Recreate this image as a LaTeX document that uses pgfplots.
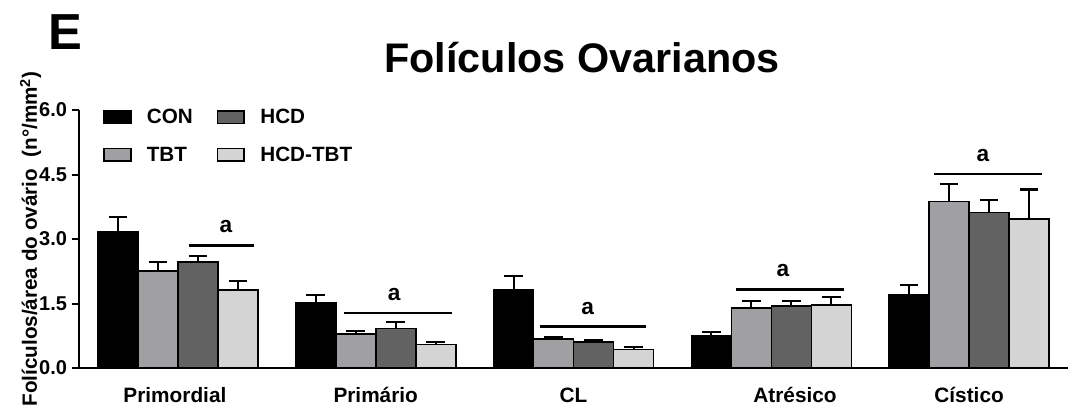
\documentclass[border=0pt]{standalone}
\usepackage{fontspec}
\setmainfont{Liberation Sans}
\usepackage{pgfplots}
\pgfplotsset{compat=1.18}

\definecolor{tbtgray}{HTML}{A0A0A2}
\definecolor{hcdgray}{HTML}{626262}
\definecolor{hcdtbtgray}{HTML}{D4D4D4}

\pgfplotsset{
  swatch/.style={legend image code/.code={%
    \draw[##1,line width=1.2pt] (0pt,-4.7pt) rectangle (20pt,4.7pt);}},
  grp/.style={fill=#1, draw=black, line width=1.2pt, swatch,
    error bars/.cd, y dir=plus, y explicit,
    error bar style={line width=1.5pt, black},
    error mark options={rotate=90, mark size=7pt, line width=1.6pt, black}},
}

\begin{document}
\begin{tikzpicture}[font=\bfseries]
\useasboundingbox (-59.25pt,-32.25pt) rectangle (741.75pt,276pt);

\node[anchor=base west, font=\fontsize{38}{40}\selectfont\bfseries, inner sep=0pt]
  at (-23pt,238.5pt) {E};
\node[anchor=base, font=\fontsize{31}{34}\selectfont\bfseries, inner sep=0pt]
  at (377.25pt,221.25pt) {Folículos Ovarianos};

\begin{axis}[
  at={(0pt,0pt)}, anchor=south west,
  scale only axis, width=741.75pt, height=193.5pt,
  xmin=-0.5, xmax=4.5, ymin=0, ymax=6,
  clip=false,
  axis x line*=bottom, axis y line*=left,
  axis line style={line width=1.5pt, black},
  ybar=0pt, bar width=30pt,
  ytick={0,1.5,3,4.5,6},
  tick align=outside,
  major tick length=5.5pt,
  ytick style={line width=1.5pt, black},
  xtick={-0.015,1,2,3.12,4},
  xticklabels={Primordial, Primário, CL, Atrésico, Cístico},
  xtick style={draw=none},
  yticklabel style={font=\fontsize{15}{17}\selectfont\bfseries,
    /pgf/number format/.cd, fixed, fixed zerofill, precision=1,
    assume math mode=true},
  xticklabel style={font=\fontsize{15.6}{18}\selectfont\bfseries,
    anchor=base, yshift=-20.25pt},
  ylabel={Folículos/área do ovário\ \ (n°/mm\textsuperscript{2})},
  every axis y label/.style={at={(axis description cs:-0.0425,0.5)},
    anchor=base, rotate=90, inner sep=0pt,
    font=\fontsize{15.5}{18}\selectfont\bfseries},
  legend columns=2, transpose legend,
  legend cell align=left,
  legend style={draw=none, fill=none, at={(rel axis cs:0,1)},
    anchor=north west, xshift=15pt, yshift=5pt,
    font=\fontsize{15.5}{18}\selectfont\bfseries,
    row sep=12pt,
    /tikz/every odd column/.append style={column sep=9.5pt},
    /tikz/every even column/.append style={column sep=16pt}},
]
\addplot[grp=black] coordinates {
  (0,3.17) +- (0,0.35)
  (1,1.52) +- (0,0.17)
  (2,1.83) +- (0,0.30)
  (3,0.74) +- (0,0.09)
  (4,1.71) +- (0,0.22)
};
\addlegendentry{CON}
\addplot[grp=tbtgray] coordinates {
  (0,2.26) +- (0,0.21)
  (1,0.79) +- (0,0.07)
  (2,0.67) +- (0,0.06)
  (3,1.40) +- (0,0.15)
  (4,3.87) +- (0,0.41)
};
\addlegendentry{TBT}
\addplot[grp=hcdgray] coordinates {
  (0,2.46) +- (0,0.15)
  (1,0.92) +- (0,0.14)
  (2,0.60) +- (0,0.04)
  (3,1.44) +- (0,0.11)
  (4,3.62) +- (0,0.29)
};
\addlegendentry{HCD}
\addplot[grp=hcdtbtgray] coordinates {
  (0,1.81) +- (0,0.21)
  (1,0.55) +- (0,0.06)
  (2,0.43) +- (0,0.05)
  (3,1.46) +- (0,0.20)
  (4,3.46) +- (0,0.69)
};
\addlegendentry{HCD-TBT}

% significance bars: "a" = different from CON
\draw[line width=1.9pt] (axis cs:0.056,2.85) -- (axis cs:0.385,2.85);
\draw[line width=1.9pt] (axis cs:0.840,1.28) -- (axis cs:1.386,1.28);
\draw[line width=1.9pt] (axis cs:1.831,0.96) -- (axis cs:2.367,0.96);
\draw[line width=1.9pt] (axis cs:2.822,1.83) -- (axis cs:3.368,1.83);
\draw[line width=1.9pt] (axis cs:3.823,4.51) -- (axis cs:4.369,4.51);
\begin{scope}[every node/.style={anchor=base, inner sep=0pt,
    font=\fontsize{17}{19}\selectfont\bfseries}]
\node at (axis cs:0.243,3.14) {a};
\node at (axis cs:1.093,1.57) {a};
\node at (axis cs:2.072,1.25) {a};
\node at (axis cs:3.059,2.12) {a};
\node at (axis cs:4.070,4.80) {a};
\end{scope}
\end{axis}
\end{tikzpicture}
\end{document}
